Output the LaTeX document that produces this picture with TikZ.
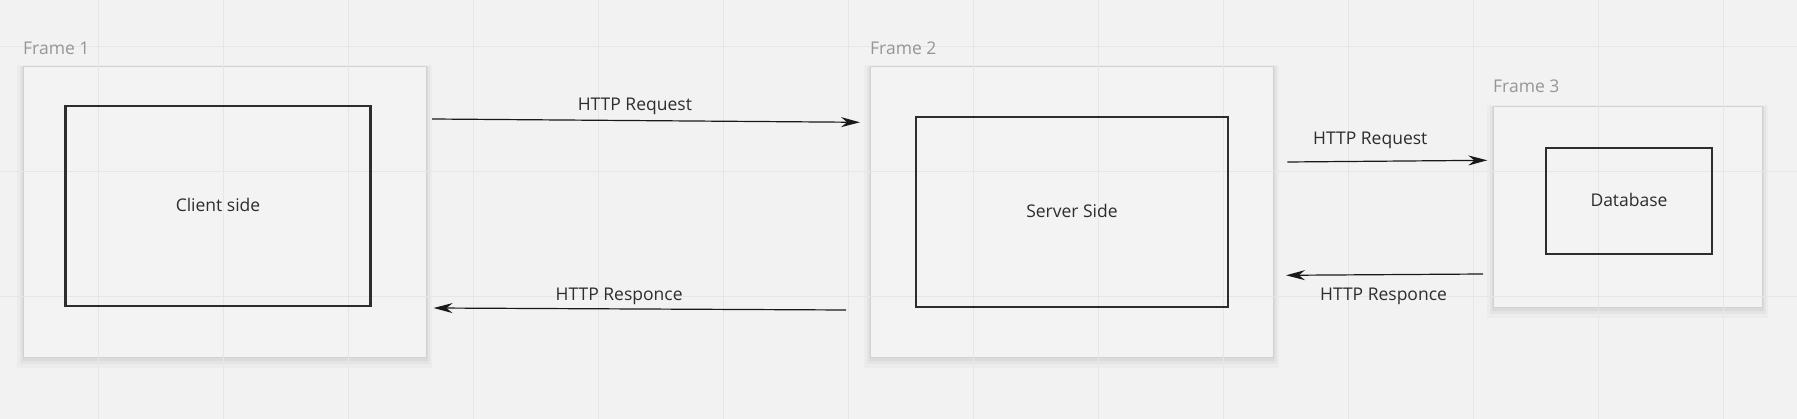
\documentclass[tikz,border=0pt]{standalone}
\usepackage{fontspec}
\setmainfont{Open Sans}
\usetikzlibrary{arrows.meta}
\definecolor{canvas}{RGB}{242,242,242}
\definecolor{gridline}{RGB}{230,230,230}
\definecolor{frameline}{RGB}{210,210,210}
\definecolor{framefill}{RGB}{243,243,243}
\definecolor{labelgray}{RGB}{150,150,150}
\definecolor{ink}{RGB}{45,45,45}

\begin{document}
\begin{tikzpicture}[x=1pt, y=-1pt, >={Stealth[length=19pt, width=10pt]},
  frame/.style={
    % The shape:
    rectangle, anchor=north west, inner sep=0pt,
    % The soft shadow
    preaction={draw=black, draw opacity=.025, line width=12pt, transform canvas={yshift=-4.5pt}},
    preaction={draw=black, draw opacity=.03, line width=7pt, transform canvas={yshift=-3pt}},
    preaction={draw=black, draw opacity=.035, line width=3pt, transform canvas={yshift=-2pt}},
    % The border
    draw=frameline, line width=.8pt,
    % The filling
    fill=framefill},
  box/.style={
    % The shape:
    rectangle, inner sep=0pt,
    % The border
    line width=2.2pt, draw=ink,
    % The text
    text=ink, font=\fontsize{17.5}{20}\selectfont},
  framename/.style={anchor=base west, inner sep=0pt, text=labelgray,
    font=\fontsize{17.5}{20}\selectfont},
  link/.style={->, line width=1.2pt, draw=black!90},
  linkname/.style={anchor=base, inner sep=0pt, text=ink,
    font=\fontsize{17.5}{20}\selectfont}]

    % canvas
    \useasboundingbox [fill=canvas] (0,0) rectangle (1797,419);

    % frames
    \node [frame, minimum width=403pt, minimum height=291pt] (frame1) at (23,66.5) {};
    \node [frame, minimum width=403pt, minimum height=291pt] (frame2) at (870,66.5) {};
    \node [frame, minimum width=269pt, minimum height=201pt] (frame3) at (1493,106) {};

    % grid of the board
    \foreach \x in {0,...,13}{
      \draw [gridline, line width=.8pt] (98.7 + 125*\x,0) -- (98.7 + 125*\x,419);
    }
    \foreach \y in {46.5,171.5,296.5}{
      \draw [gridline, line width=.8pt] (0,\y) -- (1797,\y);
    }

    \node [framename] (name1) at (23,55) {Frame 1};
    \node [framename] (name2) at (870,55) {Frame 2};
    \node [framename] (name3) at (1493,92.5) {Frame 3};

    % boxes inside the frames
    \node [box, minimum width=305pt, minimum height=200pt] (client) at (218,206) {\raisebox{2pt}{Client side}};
    \node [box, minimum width=312pt, minimum height=190pt] (server) at (1072,212) {\raisebox{2pt}{Server Side}};
    \node [box, minimum width=166pt, minimum height=106pt] (database) at (1629,201) {\raisebox{2pt}{Database}};

    % ends of the links
    \coordinate (req1 from) at (432,119);
    \coordinate (req1 to) at (860,122.3);
    \coordinate (resp1 from) at (846,310);
    \coordinate (resp1 to) at (433.6,308);
    \coordinate (req2 from) at (1287.3,162);
    \coordinate (req2 to) at (1487.3,160.3);
    \coordinate (resp2 from) at (1483,274);
    \coordinate (resp2 to) at (1286,275.3);

    \draw [link] (req1 from) -- node [linkname, pos=.474, yshift=10.5pt] (req1 name) {HTTP Request} (req1 to);
    \draw [link] (resp1 from) -- node [linkname, pos=.55, yshift=8pt] (resp1 name) {HTTP Responce} (resp1 to);
    \draw [link] (req2 from) -- node [linkname, pos=.415, yshift=17pt] (req2 name) {HTTP Request} (req2 to);
    \draw [link] (resp2 from) -- node [linkname, pos=.505, yshift=-26pt] (resp2 name) {HTTP Responce} (resp2 to);

\end{tikzpicture}
\end{document}
